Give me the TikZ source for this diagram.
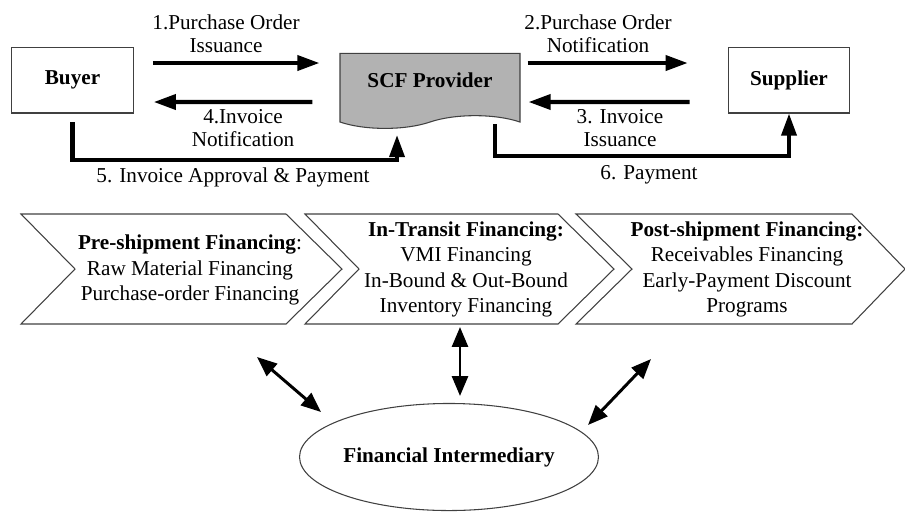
\documentclass[tikz,border=0pt]{standalone}
\usepackage{fontspec}
\setmainfont{Liberation Serif}
\usetikzlibrary{shapes.symbols,shapes.geometric,arrows.meta}

\begin{document}
\begin{tikzpicture}[x=0.4717pt,y=-0.4717pt]
\tikzstyle{party}=[rectangle,draw=black!75,line width=0.5pt,minimum width=57.3pt,minimum height=31.1pt,font=\bfseries]
\tikzstyle{lbl}=[align=center,inner sep=0pt,font=\linespread{0.9}\selectfont]
\tikzstyle{flow}=[-{Triangle[length=10.4pt,width=7pt]},line width=1.9pt]
\tikzstyle{dbl}=[{Triangle[length=9.4pt,width=7.5pt]}-{Triangle[length=9.4pt,width=7.5pt]},line width=1.4pt]
\tikzstyle{chev}=[draw=black!75,line width=0.5pt]
\useasboundingbox (0,0) rectangle (905,511);

% parties
\node at(72.5,80) (B) [party]{Buyer};
\node at(789,80) (S) [party]{Supplier};
\node at(430,84.5) (SCF) [tape,draw=black!75,fill=black!30,line width=0.5pt,
  minimum width=84.9pt,minimum height=35.4pt,tape bend top=none,
  tape bend bottom=in and out,tape bend height=6pt]{};
\node at(430,80) (SCFt) {\bfseries SCF Provider};
\coordinate (scfin) at (397,135);
\coordinate (scfout) at (495,124);

% flows
\draw[flow] ([shift={(19,-17)}]B.east) -- ([shift={(-20,-21.5)}]SCF.west);
\draw[flow] ([shift={(-27,17.5)}]SCF.west) -- ([shift={(20,22)}]B.east);
\draw[flow] ([shift={(7,-21.5)}]SCF.east) -- ([shift={(-40,-17)}]S.west);
\draw[flow] ([shift={(-38,22)}]S.west) -- ([shift={(8,17.5)}]SCF.east);
\draw[flow] ([yshift=-4.2pt]B.south) |- (72.5,160) -| (scfin);
\draw[flow] (scfout) |- (789,156) -- (S.south);

\node at(226,33.5) (l1) [lbl]{1.Purchase Order\\Issuance};
\node at(243,128.5) (l4) [lbl]{4.Invoice\\Notification};
\node at(233,177) (l5) [lbl]{5. Invoice Approval \& Payment};
\node at(598,33.5) (l2) [lbl]{2.Purchase Order\\Notification};
\node at(620,128.5) (l3) [lbl]{3. Invoice\\Issuance};
\node at(649,175) (l6) [lbl]{6. Payment};

% financing stages
\draw[chev] (21,214) -- (286,214) -- (342,269) -- (286,324) -- (21,324) -- (75,269) -- cycle;
\draw[chev] (305,214) -- (558,214) -- (614,269) -- (558,324) -- (305,324) -- (359,269) -- cycle;
\draw[chev] (576,214) -- (852,214) -- (905,269) -- (852,324) -- (576,324) -- (632,269) -- cycle;
\node at(190,270) (pre) [align=center]{\textbf{Pre-shipment Financing}:\\Raw Material Financing\\Purchase-order Financing};
\node at(466,269.5) (transit) [align=center]{\textbf{In-Transit Financing:}\\VMI Financing\\In-Bound \& Out-Bound\\Inventory Financing};
\node at(747,269.5) (post) [align=center]{\textbf{Post-shipment Financing:}\\Receivables Financing\\Early-Payment Discount\\Programs};

% intermediary
\node at(449,457) (FI) [ellipse,draw=black!75,line width=0.5pt,minimum width=133pt,minimum height=50.5pt,inner sep=0pt,font=\bfseries]{Financial Intermediary};
\coordinate (a1) at (257,357);
\coordinate (b1) at (321,412);
\coordinate (a2) at (460,327);
\coordinate (b2) at (460,396);
\coordinate (a3) at (651,359);
\coordinate (b3) at (588,425);
\draw[dbl] (a1) -- (b1);
\draw[dbl] (a2) -- (b2);
\draw[dbl] (a3) -- (b3);
\end{tikzpicture}
\end{document}
